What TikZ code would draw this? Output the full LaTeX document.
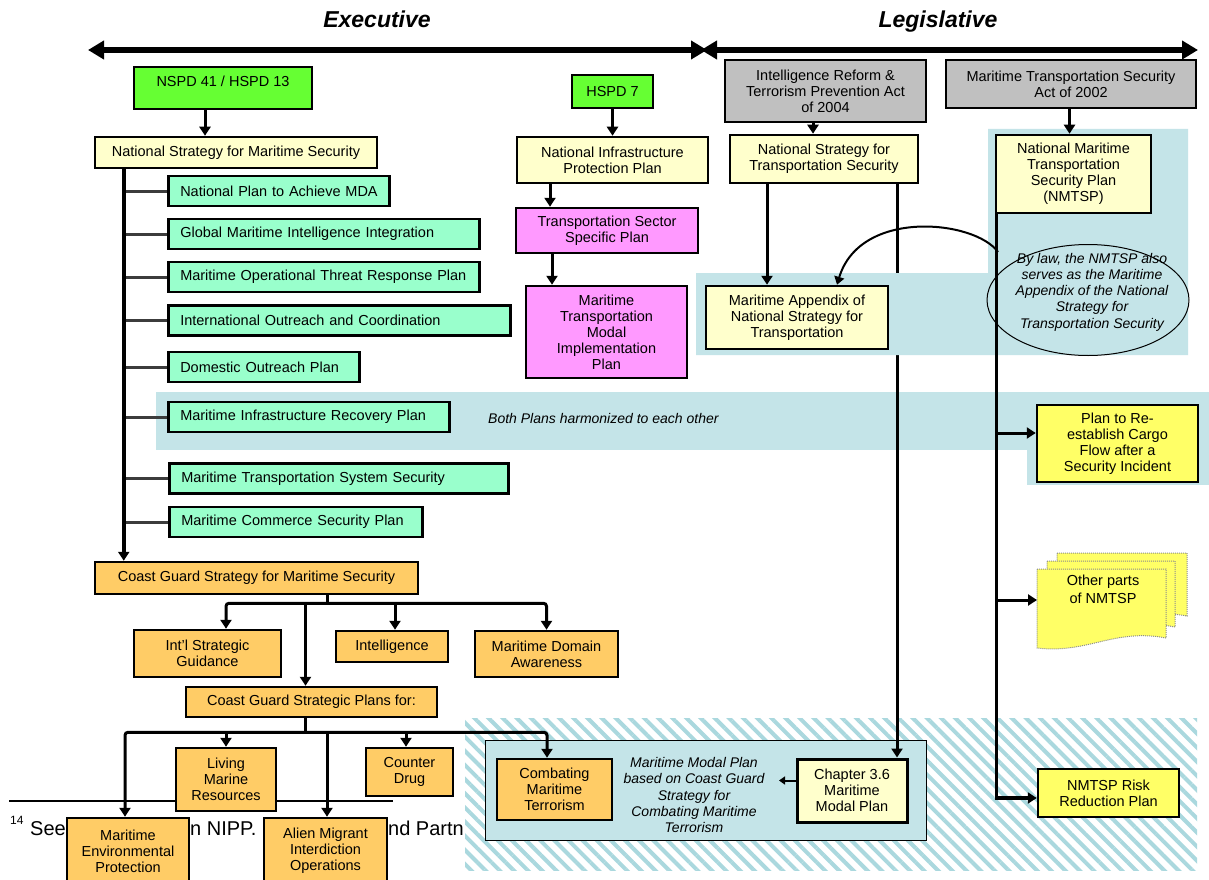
\documentclass[tikz,border=0pt]{standalone}
\usepackage{fontspec}
\setmainfont{Liberation Sans}
\usetikzlibrary{arrows.meta,patterns.meta,shapes.geometric}
\pgfdeclarelayer{lz}\pgfdeclarelayer{lo}\pgfdeclarelayer{lt}
\pgfsetlayers{lz,lo,lt,main}
\definecolor{cgreen}{HTML}{66FF33}
\definecolor{cpale}{HTML}{FFFFCC}
\definecolor{cmint}{HTML}{99FFCC}
\definecolor{cpink}{HTML}{FF99FF}
\definecolor{cgray}{HTML}{C0C0C0}
\definecolor{corange}{HTML}{FFCC66}
\definecolor{cyel}{HTML}{FFFF66}
\definecolor{cband}{HTML}{C4E4E8}
\definecolor{chatch}{HTML}{AAD8DE}
\definecolor{cbranch}{HTML}{3C3C3C}
\definecolor{csheet}{HTML}{8C8C8C}
\begin{document}
\begin{tikzpicture}[x=1pt,y=-1pt,
  bx/.style={draw=black, line width=2.5pt, inner sep=0pt, font=\fontsize{14.5}{16}\selectfont},
  mbx/.style={bx, align=center},
  mint/.style={bx, fill=cmint, anchor=west, align=left, inner xsep=12pt, minimum height=30pt},
  conn/.style={line width=3pt},
  arr/.style={line width=3pt, -{Triangle[length=9pt,width=11pt]}},
  branch/.style={line width=3pt, cbranch},
  bigarr/.style={line width=6pt, {Triangle[length=16pt,width=18pt]}-{Triangle[length=16pt,width=18pt]}},
  ttl/.style={font=\fontsize{23}{26}\selectfont\bfseries\itshape, inner sep=0pt, anchor=base},
  itx/.style={align=center, inner sep=0pt, font=\fontsize{14}{16.2}\selectfont\itshape},
  fn/.style={anchor=base west, inner sep=0pt, font=\fontsize{20}{24}\selectfont},
  sheet/.style={fill=cyel, draw=csheet, line width=1pt, densely dotted}
]
\useasboundingbox (0,0) rectangle (1209,880);
\clip (0,0) rectangle (1209,880);

% ---------- titles and top arrows
\node[ttl] (exec) at (377,28) {Executive};
\node[ttl] (legis) at (938,28) {Legislative};
\coordinate (eL) at (88,50); \coordinate (eR) at (707,50);
\coordinate (lL) at (701,50); \coordinate (lR) at (1198,50);
\draw[bigarr] (eL) -- (eR);
\draw[bigarr] (lL) -- (lR);

% ---------- left column
\node[bx, fill=cgreen, minimum width=178pt, minimum height=42pt, text depth=14pt] (nspd) at (223,88) {NSPD 41 / HSPD 13};
\node[bx, fill=cpale, minimum width=282pt, minimum height=31pt] (nsms) at (236,152.5) {National Strategy for Maritime Security};
\node[mint, text width=197pt] (npmda) at (167,191) {\mbox{National Plan to Achieve MDA}};
\node[mint, text width=287pt] (gmii) at (167,234) {\mbox{Global Maritime Intelligence Integration}};
\node[mint, text width=287pt] (motr) at (167,277) {\mbox{Maritime Operational Threat Response Plan}};
\node[mint, text width=318pt] (ioc) at (167,320.5) {\mbox{International Outreach and Coordination}};
\node[mint, text width=167pt] (dop) at (167,367) {\mbox{Domestic Outreach Plan}};
\node[mint, text width=257pt] (mirp) at (167,417) {\mbox{Maritime Infrastructure Recovery Plan}};
\node[mint, text width=315pt] (mtss) at (168,478.5) {\mbox{Maritime Transportation System Security}};
\node[mint, text width=229pt] (mcsp) at (168,522) {\mbox{Maritime Commerce Security Plan}};

\node[bx, fill=corange, minimum width=323pt, minimum height=32pt] (cgs) at (256.5,578) {Coast Guard Strategy for Maritime Security};
\node[mbx, fill=corange, minimum width=147pt, minimum height=47pt] (intl) at (207.5,653.5) {Int'l Strategic\\Guidance};
\node[bx, fill=corange, minimum width=112pt, minimum height=31pt] (intel) at (392,646.5) {Intelligence};
\node[mbx, fill=corange, minimum width=143pt, minimum height=46pt] (mdab) at (546.5,654) {Maritime Domain\\Awareness};
\node[bx, fill=corange, minimum width=251pt, minimum height=30pt] (cgsp) at (311.5,702) {Coast Guard Strategic Plans for:};
\node[mbx, fill=corange, minimum width=100pt, minimum height=63pt] (lmr) at (226,779.5) {Living\\Marine\\Resources};
\node[mbx, fill=corange, minimum width=87pt, minimum height=48pt] (cd) at (409.5,772) {Counter\\Drug};
\node[mbx, fill=corange, minimum width=122pt, minimum height=66pt] (mep) at (128,851) {Maritime\\Environmental\\Protection};
\node[mbx, fill=corange, minimum width=123pt, minimum height=66pt] (amio) at (325.5,851) {Alien Migrant\\Interdiction\\Operations};
\node[mbx, fill=corange, minimum width=115pt, minimum height=61pt] (cmt) at (554.5,789.5) {Combating\\Maritime\\Terrorism};

% ---------- middle column
\node[bx, fill=cgreen, minimum width=81pt, minimum height=33pt] (hspd) at (612.5,91.5) {HSPD 7};
\node[mbx, fill=cpale, minimum width=191pt, minimum height=46pt] (nipp) at (612.5,160) {National Infrastructure\\Protection Plan};
\node[mbx, fill=cpink, minimum width=182pt, minimum height=45pt] (tssp) at (607,230.5) {Transportation Sector\\Specific Plan};
\node[mbx, fill=cpink, minimum width=161pt, minimum height=92pt] (mtmip) at (606.5,332) {Maritime\\Transportation\\Modal\\Implementation\\Plan};

% ---------- legislative side
\node[mbx, fill=cgray, minimum width=201pt, minimum height=62pt] (irtpa) at (825.5,91) {Intelligence Reform \&\\Terrorism Prevention Act\\of 2004};
\node[mbx, fill=cpale, minimum width=188pt, minimum height=48pt] (nsts) at (824,159) {National Strategy for\\Transportation Security};
\node[mbx, fill=cpale, minimum width=182pt, minimum height=63pt] (app) at (797,317.5) {Maritime Appendix of\\National Strategy for\\Transportation};
\node[mbx, fill=cgray, minimum width=250pt, minimum height=48pt] (mtsa) at (1071,84) {Maritime Transportation Security\\Act of 2002};
\node[mbx, fill=cpale, minimum width=155pt, minimum height=78pt] (nmtsp) at (1073.5,174) {National Maritime\\Transportation\\Security Plan\\(NMTSP)};
\node[mbx, fill=cyel, minimum width=161pt, minimum height=77pt] (prcf) at (1117.5,443.5) {Plan to Re-\\establish Cargo\\Flow after a\\Security Incident};
\node[mbx, fill=cyel, minimum width=141pt, minimum height=48pt] (rrp) at (1108.5,793) {NMTSP Risk\\Reduction Plan};
\node[mbx, fill=cpale, minimum width=110pt, minimum height=63pt, line width=3pt] (ch36) at (852,790.5) {Chapter 3.6\\Maritime\\Modal Plan};

% ---------- other parts (stack of sheets)
\path[sheet] (1057,553) -- (1187,553) -- (1187,616) .. controls (1135,606) and (1110,632) .. (1057,626) -- cycle;
\path[sheet] (1047,561) -- (1175,561) -- (1175,627) .. controls (1124,617) and (1098,643) .. (1047,637) -- cycle;
\path[sheet] (1037,569) -- (1166,569) -- (1166,638) .. controls (1114,628) and (1088,654) .. (1037,648) -- cycle;
\node[align=center, inner sep=0pt, font=\fontsize{14.5}{18}\selectfont] (oth) at (1103,589) {Other parts\\of NMTSP};

% ---------- ellipse note
\node[draw, ellipse, line width=1pt, minimum width=202pt, minimum height=111pt, inner sep=0pt] (ell) at (1088,300) {};
\node[itx] (elltxt) at (1092,292) {By law, the NMTSP also\\serves as the Maritime\\Appendix of the National\\Strategy for\\Transportation Security};

% ---------- italic notes
\node[itx, anchor=west] (both) at (488,418) {Both Plans harmonized to each other};
\node[itx] (mmp) at (694,795) {Maritime Modal Plan\\based on Coast Guard\\Strategy for\\Combating Maritime\\Terrorism};

% ---------- backgrounds
\begin{pgfonlayer}{lz}
  \fill[white] (0,0) rectangle (1209,880);
  \coordinate (fnl) at (9,801); \coordinate (fnr) at (393,801);
  \draw[line width=1.5pt] (fnl) -- (fnr);
  \node[anchor=base west, inner sep=0pt, font=\fontsize{12}{14}\selectfont] (fn0) at (10,824) {14};
  \node[fn] (fn1) at (30,835) {See};
  \node[fn] (fn2) at (190,835) {n NIPP.};
  \node[fn] (fn3) at (388,835) {nd Partn};
  \fill[white] (465,718) rectangle (1197,870);
  \fill[pattern={Lines[angle=-45,distance=10pt,line width=4pt]}, pattern color=chatch] (465,718) rectangle (1197,870);
  \fill[cband] (156,392) rectangle (1209,450);
  \fill[cband] (1027,450) rectangle (1209,485);
  \draw[fill=cband, line width=1pt] (485,740) rectangle (926,840);
\end{pgfonlayer}
\begin{pgfonlayer}{lo}
  \coordinate (p6) at ([xshift=73pt]nsts.south);
  \draw[arr] (p6) -- (p6 |- ch36.north);
\end{pgfonlayer}
\begin{pgfonlayer}{lt}
  \fill[cband] (696,273) -- (988,273) -- (988,129) -- (1188,129) -- (1188,355) -- (696,355) -- cycle;
\end{pgfonlayer}

% ---------- connectors
\coordinate (p1) at ([xshift=-18pt]nspd.south);
\draw[arr] (p1) -- (p1 |- nsms.north);
\draw[arr] (hspd.south) -- (nipp.north);
\coordinate (p2) at ([xshift=-62.5pt]nipp.south);
\draw[arr] (p2) -- (p2 |- tssp.north);
\coordinate (p3) at ([xshift=-55pt]tssp.south);
\draw[arr] (p3) -- (p3 |- mtmip.north);
\coordinate (p4) at ([xshift=-12.5pt]irtpa.south);
\draw[arr] (p4) -- (p4 |- nsts.north);
\coordinate (p7) at ([xshift=-1.5pt]mtsa.south);
\draw[arr] (p7) -- (p7 |- nmtsp.north);
\coordinate (p5) at ([xshift=-57pt]nsts.south);
\draw[arr] (p5) -- (p5 |- app.north);

% left trunk
\coordinate (tl) at ([xshift=30pt]nsms.south west);
\foreach \n in {npmda,gmii,motr,ioc,dop,mirp,mtss,mcsp} \draw[branch] (tl |- \n.west) -- (\n.west);
\draw[arr, line width=4pt] (tl) -- (tl |- cgs.north);

% coast guard strategy tree
\coordinate (cgst) at ([xshift=70.5pt]cgs.south);
\coordinate (cgsb) at ([xshift=70.5pt, yshift=-8pt]cgs.south);
\coordinate (c1) at ([xshift=18.5pt]intl.north);
\coordinate (c2) at ([xshift=3pt]intel.north);
\coordinate (c3) at ([xshift=-6pt]cgsp.north);
\draw[conn] (cgst) -- (cgsb);
\draw[arr, rounded corners=3pt] (cgsb) -| (c1);
\draw[arr, rounded corners=3pt] (cgsb) -| (mdab.north);
\draw[arr] (cgsb -| c2) -- (c2);
\draw[arr] (cgsb -| c3) -- (c3);

% coast guard strategic plans tree
\coordinate (cgspt) at ([xshift=-6.5pt]cgsp.south);
\coordinate (cgspb) at ([xshift=-6.5pt, yshift=-14pt]cgsp.south);
\coordinate (d1) at ([xshift=-3pt]mep.north);
\coordinate (d3) at ([xshift=1.5pt]amio.north);
\coordinate (d4) at ([xshift=-3.5pt]cd.north);
\coordinate (d5) at ([xshift=-7.5pt]cmt.north);
\draw[conn] (cgspt) -- (cgspb);
\draw[arr, rounded corners=3pt] (cgspb) -| (d1);
\draw[arr, rounded corners=3pt] (cgspb) -| (d5);
\draw[arr] (cgspb -| lmr.north) -- (lmr.north);
\draw[arr] (cgspb -| d3) -- (d3);
\draw[arr] (cgspb -| d4) -- (d4);

% right trunk from NMTSP
\coordinate (tr) at ([xshift=1.5pt]nmtsp.south west);
\coordinate (rrpin) at ([yshift=-5pt]rrp.west);
\coordinate (prcfin) at ([yshift=10.5pt]prcf.west);
\coordinate (othin) at (1037,600);
\draw[arr, line width=3.5pt] (tr) -- (tr |- rrpin) -- (rrpin);
\draw[arr] (tr |- prcfin) -- (prcfin);
\draw[arr] (tr |- othin) -- (othin);

% chapter 3.6 small arrow
\coordinate (mmptip) at (779,780.5);
\draw[line width=2pt, -{Triangle[length=6pt,width=8pt]}] (ch36.west |- mmptip) -- (mmptip);

% curved arrow to the appendix
\coordinate (arcst) at (998,252);
\coordinate (apptop) at ([xshift=40pt]app.north);
\draw[line width=2pt, -{Triangle[length=8pt,width=10pt]}] (arcst) .. controls (975,220) and (860,208) .. (apptop);
\end{tikzpicture}
\end{document}
